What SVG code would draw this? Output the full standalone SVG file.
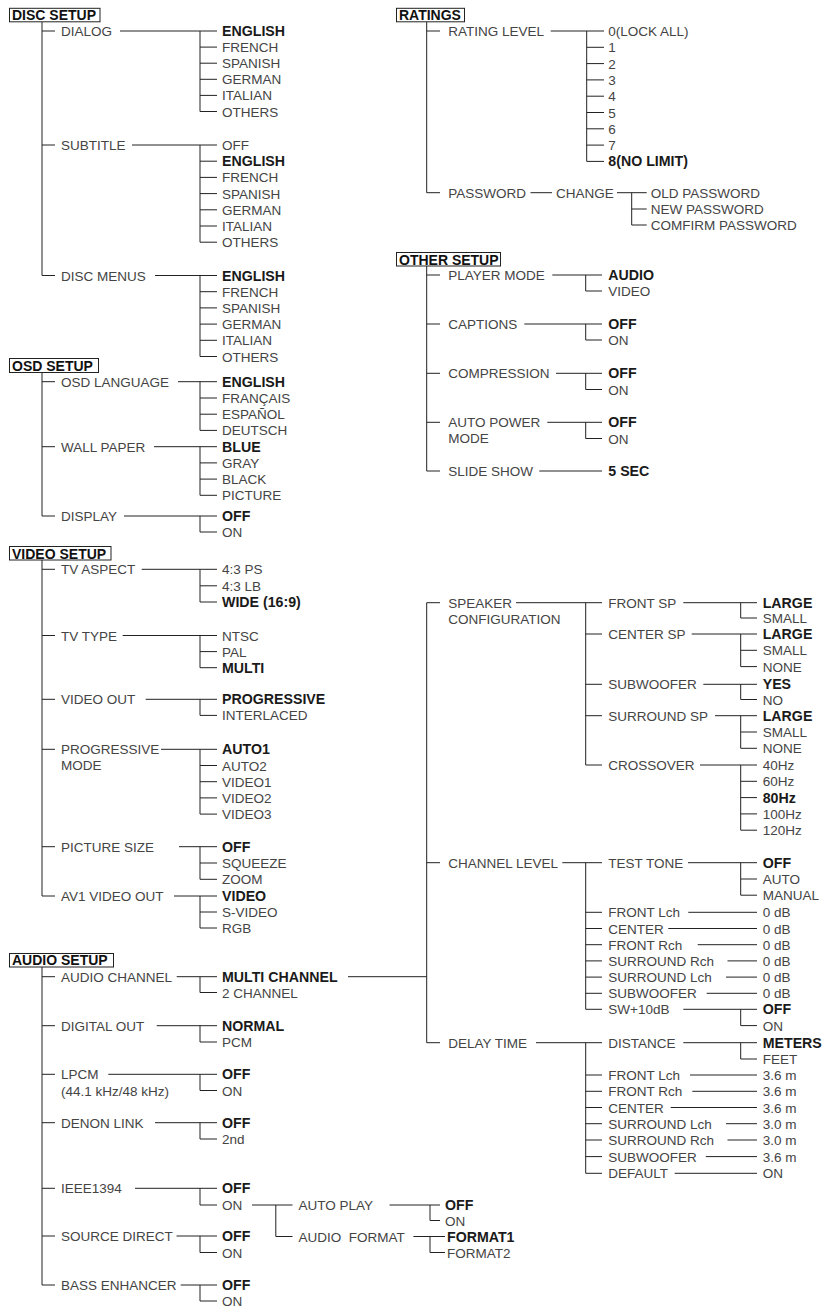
<svg xmlns="http://www.w3.org/2000/svg" width="825" height="1309" viewBox="0 0 825 1309">
<style>
text{font-family:"Liberation Sans",Arial,Helvetica,sans-serif;font-size:13.5px;fill:#444}
text.b{font-weight:bold;font-size:14.2px;fill:#1a1a1a}
text.h{font-weight:bold;font-size:14px;fill:#111}
.box{fill:#fff;stroke:#222;stroke-width:1}
#connectors path{fill:none;stroke:#222;stroke-width:1}
</style>
<rect width="825" height="1309" fill="#fff"/>
<g id="connectors">
<path d="M42 22V275.5H55M42 31H55M42 145H55M120 31H217M200 31V111.5H217M200 47.1H217M200 63.2H217M200 79.3H217M200 95.4H217M132 145H217M200 145V242.2H217M200 161.2H217M200 177.4H217M200 193.6H217M200 209.8H217M200 226H217M155 275.5H217M200 275.5V356.5H217M200 291.7H217M200 307.9H217M200 324.1H217M200 340.3H217"/>
<path d="M42 373V516H55M42 381.7H55M42 446.7H55M178 381.7H217M200 381.7V430.4H217M200 398H217M200 414.2H217M154 446.7H217M200 446.7V495.3H217M200 462.9H217M200 479.1H217M124 516H217M200 516V532H217"/>
<path d="M42 560V896H55M42 569.3H55M42 635.5H55M42 699.3H55M42 749.3H55M42 846.7H55M141.7 569.3H217M200 569.3V602H217M200 585.8H217M122.7 635.5H217M200 635.5V667.7H217M200 651.6H217M145.7 699.3H217M200 699.3V715.4H217M161 749.3H217M200 749.3V814.1H217M200 765.5H217M200 781.7H217M200 797.9H217M179 846.7H217M200 846.7V879.3H217M200 863H217M174 896H217M200 896V928H217M200 912H217"/>
<path d="M42 967V1285H55M42 976.7H55M42 1025.7H55M42 1074.3H55M42 1122.7H55M42 1188.3H55M42 1236H55M176.7 976.7H217M200 976.7V992.5H217M348 976.7H426.7M156.7 1025.7H217M200 1025.7V1042H217M108.3 1074.3H217M200 1074.3V1090.5H217M155 1122.7H217M200 1122.7V1139H217M135 1188.3H217M200 1188.3V1205H217M176.5 1236H217M200 1236V1252.5H217M180.7 1285H217M200 1285V1301H217M252 1205H292.5M275.8 1205V1236.5H292.5M389.5 1205H440M430 1205V1220.5H440M413.4 1236.5H445M430 1236.5V1252.5H445"/>
<path d="M426.7 21.7V192.7H440M426.7 31H440M550.7 31H604M586.7 31V161.4H604M586.7 47.3H604M586.7 63.6H604M586.7 79.9H604M586.7 96.2H604M586.7 112.5H604M586.7 128.8H604M586.7 145.1H604M530.5 192.7H552M617 192.7H646.7M631.7 192.7V225H646.7M631.7 209H646.7"/>
<path d="M426.7 266V471H440M426.7 275H440M426.7 324H440M426.7 373.3H440M426.7 422.3H440M552.3 275H602M585.7 275V291H602M524.3 324H602M585.7 324V340H602M556 373.3H602M585.7 373.3V389.5H602M547.3 422.3H602M585.7 422.3V438.5H602M539.3 471H602"/>
<path d="M440 602.7H426.7V1042.7H440M426.7 862.7H440M516 602.7H602M585.7 602.7V765H602M585.7 634H602M585.7 684.3H602M585.7 715.7H602M683.3 602.7H757M740.7 602.7V618H757M691.7 634H757M740.7 634V666.6H757M740.7 650.3H757M703.3 684.3H757M740.7 684.3V699.5H757M715 715.7H757M740.7 715.7V748.3H757M740.7 732H757M700 765H757M740.7 765V830.2H757M740.7 781.3H757M740.7 797.6H757M740.7 813.9H757"/>
<path d="M562.3 862.7H602M585.7 862.7V1009.3H602M585.7 912.3H602M585.7 928.5H602M585.7 944.7H602M585.7 960.9H602M585.7 977.1H602M585.7 993.3H602M688 862.7H757M740.7 862.7V895.2H757M740.7 879H757M688.3 912.3H757M668.3 928.5H757M697.7 944.7H757M727.5 960.9H757M726 977.1H757M706.7 993.3H757M683.3 1009.3H757M740.7 1009.3V1025.6H757"/>
<path d="M536 1042.7H602M585.7 1042.7V1173.3H602M585.7 1075H602M585.7 1091.3H602M585.7 1107.5H602M585.7 1123.7H602M585.7 1140H602M585.7 1156.6H602M683.3 1042.7H757M740.7 1042.7V1059H757M690 1075H757M692.3 1091.3H757M670.7 1107.5H757M726 1123.7H757M727.5 1140H757M705.8 1156.6H757M674.7 1173.3H757"/>
</g>
<g id="disc-setup"><rect class="box" x="9.5" y="8.3" width="90.5" height="13.5"/><text class="h" x="12" y="20.3">DISC SETUP</text></g>
<g id="dialog"><text x="61" y="36">DIALOG</text></g>
<g id="dialog-english"><text class="b" x="222" y="36">ENGLISH</text></g>
<g id="dialog-french"><text x="222" y="52.1">FRENCH</text></g>
<g id="dialog-spanish"><text x="222" y="68.2">SPANISH</text></g>
<g id="dialog-german"><text x="222" y="84.3">GERMAN</text></g>
<g id="dialog-italian"><text x="222" y="100.4">ITALIAN</text></g>
<g id="dialog-others"><text x="222" y="116.5">OTHERS</text></g>
<g id="subtitle"><text x="61" y="150">SUBTITLE</text></g>
<g id="subtitle-off"><text x="222" y="150">OFF</text></g>
<g id="subtitle-english"><text class="b" x="222" y="166.2">ENGLISH</text></g>
<g id="subtitle-french"><text x="222" y="182.4">FRENCH</text></g>
<g id="subtitle-spanish"><text x="222" y="198.6">SPANISH</text></g>
<g id="subtitle-german"><text x="222" y="214.8">GERMAN</text></g>
<g id="subtitle-italian"><text x="222" y="231">ITALIAN</text></g>
<g id="subtitle-others"><text x="222" y="247.2">OTHERS</text></g>
<g id="disc-menus"><text x="61" y="280.5">DISC MENUS</text></g>
<g id="menus-english"><text class="b" x="222" y="280.5">ENGLISH</text></g>
<g id="menus-french"><text x="222" y="296.7">FRENCH</text></g>
<g id="menus-spanish"><text x="222" y="312.9">SPANISH</text></g>
<g id="menus-german"><text x="222" y="329.1">GERMAN</text></g>
<g id="menus-italian"><text x="222" y="345.3">ITALIAN</text></g>
<g id="menus-others"><text x="222" y="361.5">OTHERS</text></g>
<g id="osd-setup"><rect class="box" x="9.5" y="358.5" width="89" height="14"/><text class="h" x="12" y="370.7">OSD SETUP</text></g>
<g id="osd-language"><text x="61" y="386.7">OSD LANGUAGE</text></g>
<g id="osd-english"><text class="b" x="222" y="386.7">ENGLISH</text></g>
<g id="osd-francais"><text x="222" y="403">FRANÇAIS</text></g>
<g id="osd-espanol"><text x="222" y="419.2">ESPAÑOL</text></g>
<g id="osd-deutsch"><text x="222" y="435.4">DEUTSCH</text></g>
<g id="wall-paper"><text x="61" y="451.7">WALL PAPER</text></g>
<g id="wp-blue"><text class="b" x="222" y="451.7">BLUE</text></g>
<g id="wp-gray"><text x="222" y="467.9">GRAY</text></g>
<g id="wp-black"><text x="222" y="484.1">BLACK</text></g>
<g id="wp-picture"><text x="222" y="500.3">PICTURE</text></g>
<g id="display"><text x="61" y="521">DISPLAY</text></g>
<g id="display-off"><text class="b" x="222" y="521">OFF</text></g>
<g id="display-on"><text x="222" y="537">ON</text></g>
<g id="video-setup"><rect class="box" x="9.5" y="546.5" width="101.5" height="13.5"/><text class="h" x="12" y="558.5">VIDEO SETUP</text></g>
<g id="tv-aspect"><text x="61" y="574.3">TV ASPECT</text></g>
<g id="asp-ps"><text x="222" y="574.3">4:3 PS</text></g>
<g id="asp-lb"><text x="222" y="590.8">4:3 LB</text></g>
<g id="asp-wide"><text class="b" x="222" y="607">WIDE (16:9)</text></g>
<g id="tv-type"><text x="61" y="640.5">TV TYPE</text></g>
<g id="tt-ntsc"><text x="222" y="640.5">NTSC</text></g>
<g id="tt-pal"><text x="222" y="656.6">PAL</text></g>
<g id="tt-multi"><text class="b" x="222" y="672.7">MULTI</text></g>
<g id="video-out"><text x="61" y="704.3">VIDEO OUT</text></g>
<g id="vo-prog"><text class="b" x="222" y="704.3">PROGRESSIVE</text></g>
<g id="vo-inter"><text x="222" y="720.4">INTERLACED</text></g>
<g id="prog-mode"><text x="61" y="754.3">PROGRESSIVE</text><text x="61" y="770.4">MODE</text></g>
<g id="pm-auto1"><text class="b" x="222" y="754.3">AUTO1</text></g>
<g id="pm-auto2"><text x="222" y="770.5">AUTO2</text></g>
<g id="pm-video1"><text x="222" y="786.7">VIDEO1</text></g>
<g id="pm-video2"><text x="222" y="802.9">VIDEO2</text></g>
<g id="pm-video3"><text x="222" y="819.1">VIDEO3</text></g>
<g id="picture-size"><text x="61" y="851.7">PICTURE SIZE</text></g>
<g id="ps-off"><text class="b" x="222" y="851.7">OFF</text></g>
<g id="ps-squeeze"><text x="222" y="868">SQUEEZE</text></g>
<g id="ps-zoom"><text x="222" y="884.3">ZOOM</text></g>
<g id="av1-video-out"><text x="61" y="901">AV1 VIDEO OUT</text></g>
<g id="av1-video"><text class="b" x="222" y="901">VIDEO</text></g>
<g id="av1-svideo"><text x="222" y="917">S-VIDEO</text></g>
<g id="av1-rgb"><text x="222" y="933">RGB</text></g>
<g id="audio-setup"><rect class="box" x="9.5" y="953.5" width="104" height="13.5"/><text class="h" x="12" y="965.2">AUDIO SETUP</text></g>
<g id="audio-channel"><text x="61" y="981.7">AUDIO CHANNEL</text></g>
<g id="ac-multi"><text class="b" x="222" y="981.7">MULTI CHANNEL</text></g>
<g id="ac-2ch"><text x="222" y="997.5">2 CHANNEL</text></g>
<g id="digital-out"><text x="61" y="1030.7">DIGITAL OUT</text></g>
<g id="do-normal"><text class="b" x="222" y="1030.7">NORMAL</text></g>
<g id="do-pcm"><text x="222" y="1047">PCM</text></g>
<g id="lpcm"><text x="61" y="1079.3">LPCM</text><text x="61" y="1095.5">(44.1 kHz/48 kHz)</text></g>
<g id="lpcm-off"><text class="b" x="222" y="1079.3">OFF</text></g>
<g id="lpcm-on"><text x="222" y="1095.5">ON</text></g>
<g id="denon-link"><text x="61" y="1127.7">DENON LINK</text></g>
<g id="dl-off"><text class="b" x="222" y="1127.7">OFF</text></g>
<g id="dl-2nd"><text x="222" y="1144">2nd</text></g>
<g id="ieee1394"><text x="61" y="1193.3">IEEE1394</text></g>
<g id="ieee-off"><text class="b" x="222" y="1193.3">OFF</text></g>
<g id="ieee-on"><text x="222" y="1210">ON</text></g>
<g id="auto-play"><text x="298.5" y="1210">AUTO PLAY</text></g>
<g id="ap-off"><text class="b" x="445" y="1210">OFF</text></g>
<g id="ap-on"><text x="445" y="1225.5">ON</text></g>
<g id="audio-format"><text x="298.5" y="1241.5" xml:space="preserve">AUDIO  FORMAT</text></g>
<g id="af-format1"><text class="b" x="447" y="1241.5">FORMAT1</text></g>
<g id="af-format2"><text x="447" y="1257.5">FORMAT2</text></g>
<g id="source-direct"><text x="61" y="1241">SOURCE DIRECT</text></g>
<g id="sd-off"><text class="b" x="222" y="1241">OFF</text></g>
<g id="sd-on"><text x="222" y="1257.5">ON</text></g>
<g id="bass-enhancer"><text x="61" y="1290">BASS ENHANCER</text></g>
<g id="be-off"><text class="b" x="222" y="1290">OFF</text></g>
<g id="be-on"><text x="222" y="1306">ON</text></g>
<g id="ratings"><rect class="box" x="396.5" y="8.3" width="68" height="13.5"/><text class="h" x="399" y="20.3">RATINGS</text></g>
<g id="rating-level"><text x="448.3" y="36">RATING LEVEL</text></g>
<g id="rl-0"><text x="608.3" y="36">0(LOCK ALL)</text></g>
<g id="rl-1"><text x="608.3" y="52.3">1</text></g>
<g id="rl-2"><text x="608.3" y="68.6">2</text></g>
<g id="rl-3"><text x="608.3" y="84.9">3</text></g>
<g id="rl-4"><text x="608.3" y="101.2">4</text></g>
<g id="rl-5"><text x="608.3" y="117.5">5</text></g>
<g id="rl-6"><text x="608.3" y="133.8">6</text></g>
<g id="rl-7"><text x="608.3" y="150.1">7</text></g>
<g id="rl-8"><text class="b" x="608.3" y="166.4">8(NO LIMIT)</text></g>
<g id="password"><text x="448.3" y="197.7">PASSWORD</text></g>
<g id="change"><text x="556" y="197.7">CHANGE</text></g>
<g id="pw-old"><text x="650.7" y="197.7">OLD PASSWORD</text></g>
<g id="pw-new"><text x="650.7" y="214">NEW PASSWORD</text></g>
<g id="pw-confirm"><text x="650.7" y="230">COMFIRM PASSWORD</text></g>
<g id="other-setup"><rect class="box" x="396.5" y="252.5" width="104" height="13.5"/><text class="h" x="399" y="264.5">OTHER SETUP</text></g>
<g id="player-mode"><text x="448.3" y="280">PLAYER MODE</text></g>
<g id="pl-audio"><text class="b" x="608.3" y="280">AUDIO</text></g>
<g id="pl-video"><text x="608.3" y="296">VIDEO</text></g>
<g id="captions"><text x="448.3" y="329">CAPTIONS</text></g>
<g id="cap-off"><text class="b" x="608.3" y="329">OFF</text></g>
<g id="cap-on"><text x="608.3" y="345">ON</text></g>
<g id="compression"><text x="448.3" y="378.3">COMPRESSION</text></g>
<g id="comp-off"><text class="b" x="608.3" y="378.3">OFF</text></g>
<g id="comp-on"><text x="608.3" y="394.5">ON</text></g>
<g id="auto-power"><text x="448.3" y="427.3">AUTO POWER</text><text x="448.3" y="443.3">MODE</text></g>
<g id="apm-off"><text class="b" x="608.3" y="427.3">OFF</text></g>
<g id="apm-on"><text x="608.3" y="443.5">ON</text></g>
<g id="slide-show"><text x="448.3" y="476">SLIDE SHOW</text></g>
<g id="ss-5sec"><text class="b" x="608.3" y="476">5 SEC</text></g>
<g id="speaker-config"><text x="448.3" y="607.7">SPEAKER</text><text x="448.3" y="623.5">CONFIGURATION</text></g>
<g id="front-sp"><text x="608.3" y="607.7">FRONT SP</text></g>
<g id="fsp-large"><text class="b" x="762.7" y="607.7">LARGE</text></g>
<g id="fsp-small"><text x="762.7" y="623">SMALL</text></g>
<g id="center-sp"><text x="608.3" y="639">CENTER SP</text></g>
<g id="csp-large"><text class="b" x="762.7" y="639">LARGE</text></g>
<g id="csp-small"><text x="762.7" y="655.3">SMALL</text></g>
<g id="csp-none"><text x="762.7" y="671.6">NONE</text></g>
<g id="subwoofer"><text x="608.3" y="689.3">SUBWOOFER</text></g>
<g id="sw-yes"><text class="b" x="762.7" y="689.3">YES</text></g>
<g id="sw-no"><text x="762.7" y="704.5">NO</text></g>
<g id="surround-sp"><text x="608.3" y="720.7">SURROUND SP</text></g>
<g id="ssp-large"><text class="b" x="762.7" y="720.7">LARGE</text></g>
<g id="ssp-small"><text x="762.7" y="737">SMALL</text></g>
<g id="ssp-none"><text x="762.7" y="753.3">NONE</text></g>
<g id="crossover"><text x="608.3" y="770">CROSSOVER</text></g>
<g id="co-40"><text x="762.7" y="770">40Hz</text></g>
<g id="co-60"><text x="762.7" y="786.3">60Hz</text></g>
<g id="co-80"><text class="b" x="762.7" y="802.6">80Hz</text></g>
<g id="co-100"><text x="762.7" y="818.9">100Hz</text></g>
<g id="co-120"><text x="762.7" y="835.2">120Hz</text></g>
<g id="channel-level"><text x="448.3" y="867.7">CHANNEL LEVEL</text></g>
<g id="test-tone"><text x="608.3" y="867.7">TEST TONE</text></g>
<g id="tt-off"><text class="b" x="762.7" y="867.7">OFF</text></g>
<g id="tt-auto"><text x="762.7" y="884">AUTO</text></g>
<g id="tt-manual"><text x="762.7" y="900.2">MANUAL</text></g>
<g id="cl-front-l"><text x="608.3" y="917.3">FRONT Lch</text></g>
<g id="cl-front-l-v"><text x="762.7" y="917.3">0 dB</text></g>
<g id="cl-center"><text x="608.3" y="933.5">CENTER</text></g>
<g id="cl-center-v"><text x="762.7" y="933.5">0 dB</text></g>
<g id="cl-front-r"><text x="608.3" y="949.7">FRONT Rch</text></g>
<g id="cl-front-r-v"><text x="762.7" y="949.7">0 dB</text></g>
<g id="cl-sur-r"><text x="608.3" y="965.9">SURROUND Rch</text></g>
<g id="cl-sur-r-v"><text x="762.7" y="965.9">0 dB</text></g>
<g id="cl-sur-l"><text x="608.3" y="982.1">SURROUND Lch</text></g>
<g id="cl-sur-l-v"><text x="762.7" y="982.1">0 dB</text></g>
<g id="cl-sub"><text x="608.3" y="998.3">SUBWOOFER</text></g>
<g id="cl-sub-v"><text x="762.7" y="998.3">0 dB</text></g>
<g id="cl-sw10"><text x="608.3" y="1014.3">SW+10dB</text></g>
<g id="sw10-off"><text class="b" x="762.7" y="1014.3">OFF</text></g>
<g id="sw10-on"><text x="762.7" y="1030.6">ON</text></g>
<g id="delay-time"><text x="448.3" y="1047.7">DELAY TIME</text></g>
<g id="distance"><text x="608.3" y="1047.7">DISTANCE</text></g>
<g id="dist-meters"><text class="b" x="762.7" y="1047.7">METERS</text></g>
<g id="dist-feet"><text x="762.7" y="1064">FEET</text></g>
<g id="dt-front-l"><text x="608.3" y="1080">FRONT Lch</text></g>
<g id="dt-front-l-v"><text x="762.7" y="1080">3.6 m</text></g>
<g id="dt-front-r"><text x="608.3" y="1096.3">FRONT Rch</text></g>
<g id="dt-front-r-v"><text x="762.7" y="1096.3">3.6 m</text></g>
<g id="dt-center"><text x="608.3" y="1112.5">CENTER</text></g>
<g id="dt-center-v"><text x="762.7" y="1112.5">3.6 m</text></g>
<g id="dt-sur-l"><text x="608.3" y="1128.7">SURROUND Lch</text></g>
<g id="dt-sur-l-v"><text x="762.7" y="1128.7">3.0 m</text></g>
<g id="dt-sur-r"><text x="608.3" y="1145">SURROUND Rch</text></g>
<g id="dt-sur-r-v"><text x="762.7" y="1145">3.0 m</text></g>
<g id="dt-sub"><text x="608.3" y="1161.6">SUBWOOFER</text></g>
<g id="dt-sub-v"><text x="762.7" y="1161.6">3.6 m</text></g>
<g id="dt-default"><text x="608.3" y="1178.3">DEFAULT</text></g>
<g id="dt-default-v"><text x="762.7" y="1178.3">ON</text></g>
</svg>
